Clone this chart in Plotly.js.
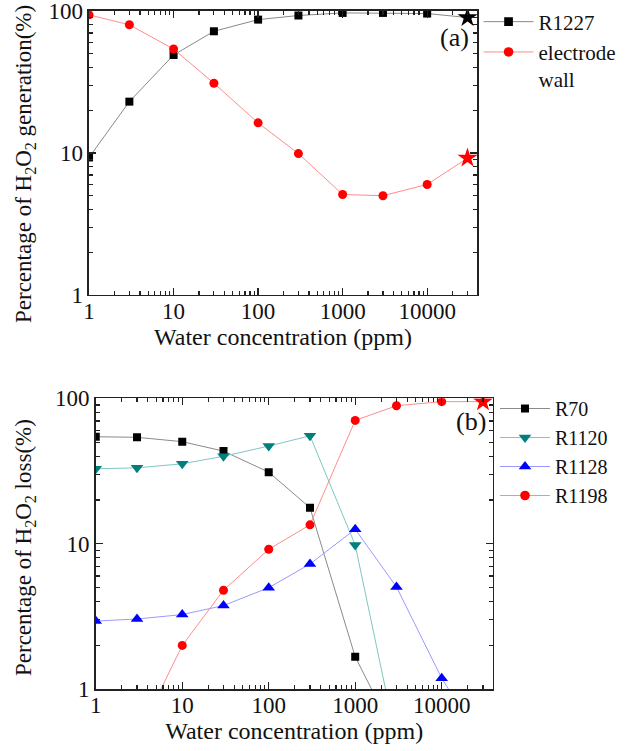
<!DOCTYPE html>
<html>
<head>
<meta charset="utf-8">
<script src="https://cdn.plot.ly/plotly-3.0.1.min.js"></script>
<style>html,body{margin:0;padding:0;background:#fff;}#chart{width:633px;height:751px;}</style>
</head>
<body>
<div id="chart"></div>
<script>
// ---- Data ----
const waterPpm = [1, 3, 10, 30, 100, 300, 1000, 3000, 10000, 30000];
const tickVals = [1, 10, 100, 1000, 10000];
const tickText = ['1', '10', '100', '1000', '10000'];
const yTickVals = [1, 10, 100];
const yTickText = ['1', '10', '100'];

// (a) generation
const r1227 = [9.3, 23, 49, 72, 87, 93, 97, 97, 96, 90];
const electrodeWall = [94, 80, 54, 31, 16.3, 9.9, 5.1, 5.0, 6.0, 9.2];

// (b) loss
const r70 = [54.5, 54, 50.4, 43.4, 31.1, 17.7, 1.67, 0.46, null, null];
const r1120 = [32.8, 33.3, 35.5, 40, 47, 55.3, 9.8, 0.44, null, null];
const r1128 = [2.94, 3.04, 3.26, 3.76, 4.99, 7.26, 12.6, 5.05, 1.19, 0.42];
const r1198 = [0.12, 0.46, 2.0, 4.79, 9.17, 13.5, 70.6, 89, 95, 95];

const FONT = 'Liberation Serif, Times New Roman, serif';

function lastDiff(base, n, last) {
  const s = [];
  for (let i = 0; i < n; i++) s.push(i === n - 1 ? last : base);
  return s;
}

const n = waterPpm.length;
const noLine = {width: 0};
const traces = [
  {x: waterPpm, y: r1227, name: 'R1227', xaxis: 'x', yaxis: 'y', legend: 'legend',
   mode: 'lines+markers', line: {color: '#8a8a8a', width: 1},
   marker: {color: '#000000', opacity: 1, line: noLine, symbol: lastDiff('square', n, 'star'), size: lastDiff(8, n, 15)}},
  {x: waterPpm, y: electrodeWall, name: 'electrode<br>wall', xaxis: 'x', yaxis: 'y', legend: 'legend',
   mode: 'lines+markers', line: {color: '#ff8c8c', width: 1},
   marker: {color: '#ff0000', opacity: 1, line: noLine, symbol: lastDiff('circle', n, 'star'), size: lastDiff(9, n, 15)}},

  {x: waterPpm, y: r70, name: 'R70', xaxis: 'x2', yaxis: 'y2', legend: 'legend2',
   mode: 'lines+markers', line: {color: '#8a8a8a', width: 1},
   marker: {color: '#000000', opacity: 1, line: noLine, symbol: 'square', size: 8}},
  {x: waterPpm, y: r1120, name: 'R1120', xaxis: 'x2', yaxis: 'y2', legend: 'legend2',
   mode: 'lines+markers', line: {color: '#7fc7c0', width: 1},
   marker: {color: '#007f7f', opacity: 1, line: noLine, symbol: 'triangle-down', size: 11}},
  {x: waterPpm, y: r1128, name: 'R1128', xaxis: 'x2', yaxis: 'y2', legend: 'legend2',
   mode: 'lines+markers', line: {color: '#9a9aff', width: 1},
   marker: {color: '#0000ff', opacity: 1, line: noLine, symbol: 'triangle-up', size: 11}},
  {x: waterPpm, y: r1198, name: 'R1198', xaxis: 'x2', yaxis: 'y2', legend: 'legend2',
   mode: 'lines+markers', line: {color: '#ff8c8c', width: 1},
   marker: {color: '#ff0000', opacity: 1, line: noLine, symbol: lastDiff('circle', n, 'star'), size: lastDiff(9, n, 15)}}
];

function xAx(domain, anchor) {
  return {
    type: 'log', domain: domain, anchor: anchor, range: [-0.0005, 4.59],
    tickvals: tickVals, ticktext: tickText,
    ticks: 'inside', ticklen: 7, tickwidth: 1.2, tickcolor: '#222',
    minor: {ticks: 'inside', ticklen: 4, tickcolor: '#222', dtick: 'D1', showgrid: false},
    showline: true, linecolor: '#222', linewidth: 1.5, mirror: 'ticks',
    showgrid: false, zeroline: false, ticklabelstandoff: -5, ticklabeloverflow: 'allow',
    tickfont: {family: FONT, size: 23, color: '#111'},
    title: {text: 'Water concentration (ppm)', font: {family: FONT, size: 24, color: '#111'}, standoff: 2}
  };
}
function yAx(domain, anchor) {
  return {
    type: 'log', domain: domain, anchor: anchor, range: [-0.0005, 2.0005],
    tickvals: yTickVals, ticktext: yTickText,
    ticks: 'inside', ticklen: 7, tickwidth: 1.2, tickcolor: '#222',
    minor: {ticks: 'inside', ticklen: 4, tickcolor: '#222', dtick: 'D1', showgrid: false},
    showline: true, linecolor: '#222', linewidth: 1.5, mirror: 'ticks',
    showgrid: false, zeroline: false, ticklabeloverflow: 'allow',
    tickfont: {family: FONT, size: 23, color: '#111'}
  };
}

const layout = {
  width: 633, height: 751,
  margin: {l: 0, r: 0, t: 0, b: 0},
  paper_bgcolor: '#ffffff', plot_bgcolor: '#ffffff',
  font: {family: FONT, color: '#111'},
  xaxis: xAx([0.1406, 0.7536], 'y'),
  yaxis: yAx([0.6072, 0.9854], 'x'),
  xaxis2: xAx([0.1512, 0.7784], 'y2'),
  yaxis2: yAx([0.0822, 0.4696], 'x2'),
  legend: {x: 0.756, y: 0.998, xanchor: 'left', yanchor: 'top', bgcolor: 'rgba(0,0,0,0)',
           font: {family: FONT, size: 21, color: '#111'}, itemwidth: 50, valign: 'top', tracegroupgap: 0},
  legend2: {x: 0.782, y: 0.482, xanchor: 'left', yanchor: 'top', bgcolor: 'rgba(0,0,0,0)',
           font: {family: FONT, size: 20, color: '#111'}, itemwidth: 50, valign: 'middle', tracegroupgap: 0},
  showlegend: true,
  annotations: [
    {text: 'Percentage of H<sub>2</sub>O<sub>2</sub> generation(%)', xref: 'paper', yref: 'paper',
     x: 25 / 633, y: 1 - 164 / 751, xanchor: 'center', yanchor: 'middle', textangle: -90,
     showarrow: false, font: {family: FONT, size: 23, color: '#111'}},
    {text: 'Percentage of H<sub>2</sub>O<sub>2</sub> loss(%)', xref: 'paper', yref: 'paper',
     x: 25 / 633, y: 1 - 548 / 751, xanchor: 'center', yanchor: 'middle', textangle: -90,
     showarrow: false, font: {family: FONT, size: 23, color: '#111'}},
    {text: '(a)', xref: 'paper', yref: 'paper', x: 455 / 633, y: 1 - 38 / 751,
     xanchor: 'center', yanchor: 'middle',
     showarrow: false, font: {family: FONT, size: 26, color: '#111'}},
    {text: '(b)', xref: 'paper', yref: 'paper', x: 471 / 633, y: 1 - 421 / 751,
     xanchor: 'center', yanchor: 'middle',
     showarrow: false, font: {family: FONT, size: 26, color: '#111'}}
  ]
};

Plotly.newPlot('chart', traces, layout, {displayModeBar: false, staticPlot: true});
</script>
</body>
</html>
